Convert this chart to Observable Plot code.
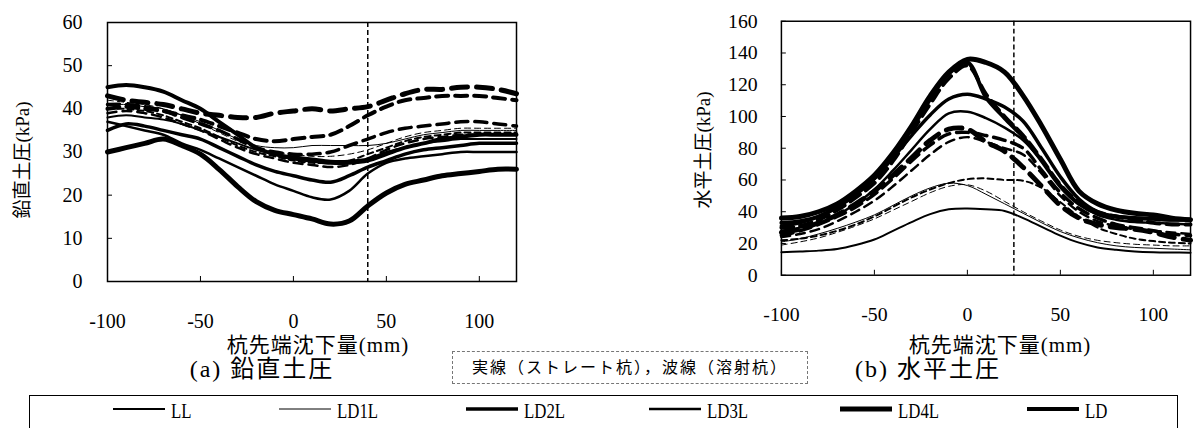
<!DOCTYPE html>
<html><head><meta charset="utf-8">
<script src="https://cdn.jsdelivr.net/npm/d3@7"></script>
<script src="https://cdn.jsdelivr.net/npm/@observablehq/plot@0.6"></script>
<style>
html,body{margin:0;padding:0;background:#fff;}
#root{position:relative;width:1194px;height:428px;overflow:hidden;background:#fff;font-family:"Liberation Serif","Noto Sans CJK JP",serif;color:#000;}
.abs{position:absolute;white-space:nowrap;line-height:1;}
.ylab{font-size:19px;transform:translate(-50%,-50%) rotate(-90deg);}
.xlab{font-size:21px;transform:translate(-50%,-50%);letter-spacing:1px;}
.cap{font-size:24px;transform:translate(-50%,-50%);letter-spacing:2px;}
</style></head><body>
<div id="root">
  <div id="pa" class="abs" style="left:0;top:0"></div>
  <div id="pb" class="abs" style="left:690px;top:0"></div>
  <div class="abs ylab" style="left:22px;top:160px">鉛直土圧(kPa)</div>
  <div class="abs ylab" style="left:703px;top:150px">水平土圧(kPa)</div>
  <div class="abs xlab" style="left:318px;top:345px">杭先端沈下量(mm)</div>
  <div class="abs xlab" style="left:1000px;top:345px">杭先端沈下量(mm)</div>
  <div class="abs cap" style="left:262px;top:369px">(a) 鉛直土圧</div>
  <div class="abs cap" style="left:928px;top:369px">(b) 水平土圧</div>
  <div class="abs" style="left:452px;top:351px;width:356px;height:33px;border:1px dashed #777;box-sizing:border-box;display:flex;align-items:center;justify-content:center;font-size:16px;letter-spacing:2px;">実線（ストレート杭），波線（溶射杭）</div>
  <div id="legend" class="abs" style="left:29px;top:395px;width:1149px;height:50px;border:1.5px solid #000;box-sizing:border-box;"></div>
</div>
<script>
// ---- data ----
const xMm = [-100,-90,-80,-70,-60,-50,-40,-30,-20,-10,0,10,20,30,40,50,60,70,80,90,100,110,120];
const seriesNames = ["LL","LD1L","LD2L","LD3L","LD4L","LD"];
const xTicks = [-100,-50,0,50,100];
const yTicksA = [0,10,20,30,40,50,60];
const yTicksB = [0,20,40,60,80,100,120,140,160];
const markerA = 40; // settlement marker (a)
const markerB = 25; // settlement marker (b)

// (a) vertical earth pressure, straight pile (solid)
const aLL   = [38,38.5,38,37.5,36.5,35,33.5,32,30.5,29.5,29,28.5,28,28,28.5,30,31,32,32.5,33,33,33,33];
const aLD1L = [41,41,40.5,40,38.5,37,35,33,31.5,31,31,31.5,31.5,31.5,31.5,32,33,34,34.5,35,35,35,35];
const aLD2L = [35,36.5,36,35,34,33,31,29,27,25.5,24.5,23.5,23,24.5,26.5,28,29.5,30.5,31,31.5,32,32,32];
const aLD3L = [37,36,35,34,32,30.5,28.5,26.5,24.5,22.5,21,19.5,19,21,25,27.5,28.5,29,29.5,30,30,30,30];
const aLD4L = [30,31,32,33,31.5,29.5,26,22,18.5,16.5,15.5,14.5,13.3,14,17.5,20.5,22.5,23.5,24.5,25,25.5,26,26];
const aLD   = [45,45.5,45,44,42,40,37,34,31,29.5,28.5,28,27.5,27.5,28,29.5,31,32,33,33.5,34,34,34];
// (a) vertical earth pressure, sprayed pile (dashed)
const adLL   = [40,40,39.5,38.5,37,35.5,33.5,31.5,30,29,28,27.5,27.5,28,29.5,31,32.5,33.5,34,34.5,34.5,34.5,34.5];
const adLD1L = [42,41.5,41,40,38.5,36.5,34.5,32.5,31,30,29.5,29,29,29.5,30.5,32,33.5,34.5,35,35.5,35.5,35.5,35.5];
const adLD2L = [41,41,40.5,39.5,38,36.5,35,33,31,30,29.5,29.5,30,31.5,33,34.5,35.5,36,36.5,37,37,36.5,36];
const adLD3L = [39,39.5,39,38,36.5,35,33,31,29.5,28.5,27.5,27,26.5,27,28.5,30.5,32,33,33.5,34,34,34,34];
const adLD4L = [43,42,41.5,41,40,39,38.5,38,38,39,39.5,40,39.5,40,40.5,42,43.5,44.5,44.5,45,45,44.5,43.5];
const adLD   = [40,40.5,40,39.5,38.5,37.5,36,34.5,33,32.5,33,33.5,34,36,38.5,40.5,42,42.5,43,43,43,42.5,42];

// (b) horizontal earth pressure, straight pile (solid)
const bLL   = [14.5,15,15.5,16.5,19,22.5,28,33.5,38.5,41.5,42,41.5,40.5,36,30.5,25,20.5,17.5,16,15,14.5,14.3,14.2];
const bLD1L = [21,23,26,29.5,33.5,38,44,50,55,58,56.5,51,45,39,33,27.5,23.5,20.5,18.5,17.5,17,16.5,16];
const bLD2L = [31,33,37,43,51,61,74,88,101,111,114,111,106,97,80,62,48,40,37,36,35.5,35,35];
const bLD3L = [28,30,33,38,45,54,66,79,92,102,103,99,93,85,72,57,45,38,35,33.5,33,32.5,32];
const bLD4L = [36,37,40,45,53,63,77,94,113,128,136,134,128,113,94,73,53,45,41,39,38,36,35];
const bLD   = [33,34,37,43,51,61,75,92,111,127,134,112,99,87,72,56,45,39,37,36,35.5,35,35];
// (b) horizontal earth pressure, sprayed pile (dashed)
const bdLL   = [22,23,25,28,32,37,43,49,54,58,60.5,61,60,59.5,55,46,37,30,26,23,21.5,20.5,20];
const bdLD1L = [19,21,23.5,27,31,35.5,41,46.5,52,56,57,53,46.5,40,34,28.5,24.5,22,20.5,19.5,19,18.5,18.5];
const bdLD2L = [25,28,32,37,43,51,61,72,82,89,90,88,85,80,66,52,42,36,32,30,28,26,25];
const bdLD3L = [24,26,29,34,40,47,56,66,76,84,87,84,80,76,64,50,40,34,31,29,28,27,26];
const bdLD4L = [27,29,33,38,45,53,63,74,85,92,92,84,78,68,56,44,36,32,30,29,27,24,22];
const bdLD   = [30,31,35,41,49,58,72,90,108,124,132,114,100,88,73,57,46,40,37,35,33,32,32];

// ---- styles ----
const lineWidth = {LL:2, LD1L:1, LD2L:3.5, LD3L:2.5, LD4L:5, LD:4};
const dashFor = w => w >= 4.5 ? "16,9" : w >= 3.5 ? "12,7" : w >= 2.5 ? "9,6" : "6,4";

function rows(vals){ return xMm.map((x,j)=>({x, y: vals[j]})); }

function chart(solid, dashed, yMax, yTicks, marker, opts){
  const marks = [];
  seriesNames.forEach((n,i)=>{
    marks.push(Plot.line(rows(dashed[i]), {x:"x", y:"y", stroke:"black", strokeWidth: lineWidth[n], strokeDasharray: dashFor(lineWidth[n]), curve:"catmull-rom", strokeLinejoin:"round"}));
  });
  seriesNames.forEach((n,i)=>{
    marks.push(Plot.line(rows(solid[i]), {x:"x", y:"y", stroke:"black", strokeWidth: lineWidth[n], curve:"catmull-rom", strokeLinejoin:"round"}));
  });
  marks.push(Plot.ruleX([marker], {stroke:"black", strokeWidth:1.5, strokeDasharray:"5,3"}));
  marks.push(Plot.frame({stroke:"black", strokeWidth:1.5}));
  marks.push(Plot.axisX(xTicks, {anchor:"bottom", tickSize:-5, tickPadding:37, label:null, tickFormat: d=>String(d)}));
  marks.push(Plot.axisY(yTicks, {anchor:"left", tickSize:-5, tickPadding:opts.yPad, label:null}));
  return Plot.plot({
    width: opts.width, height: 340,
    marginLeft: opts.ml, marginRight: opts.mr, marginTop: opts.mt, marginBottom: 340 - opts.bottom,
    x: {domain:[-100,120]},
    y: {domain:[0,yMax]},
    style: {fontFamily:'"Liberation Serif","Noto Sans CJK JP",serif', fontSize:"20px", color:"black", background:"transparent", overflow:"visible"},
    marks
  });
}

document.getElementById("pa").appendChild(chart(
  [aLL,aLD1L,aLD2L,aLD3L,aLD4L,aLD],[adLL,adLD1L,adLD2L,adLD3L,adLD4L,adLD],
  60, yTicksA, markerA, {width:540, ml:107, mr:24, mt:22, bottom:281, yPad:30}));
document.getElementById("pb").appendChild(chart(
  [bLL,bLD1L,bLD2L,bLD3L,bLD4L,bLD],[bdLL,bdLD1L,bdLD2L,bdLD3L,bdLD4L,bdLD],
  160, yTicksB, markerB, {width:510, ml:92, mr:4, mt:21, bottom:278, yPad:29}));

// legend
const legendX = [112,278,465,648,839,1026];
const lg = document.getElementById("legend");
seriesNames.forEach((n,i)=>{
  const left = legendX[i] - 29;
  const item = document.createElement("div");
  item.className = "abs";
  item.style.cssText = `left:${left}px;top:0px;height:30px;`;
  item.innerHTML = `<svg width="54" height="30" style="position:absolute;left:0;top:0"><line x1="0" x2="52" y1="13" y2="13" stroke="black" stroke-width="${lineWidth[n]}"/></svg>` +
    `<span style="position:absolute;left:58px;top:5px;font-size:21px;display:inline-block;transform:scaleX(0.8);transform-origin:left top;">${n}</span>`;
  lg.appendChild(item);
});
</script>
</body></html>
